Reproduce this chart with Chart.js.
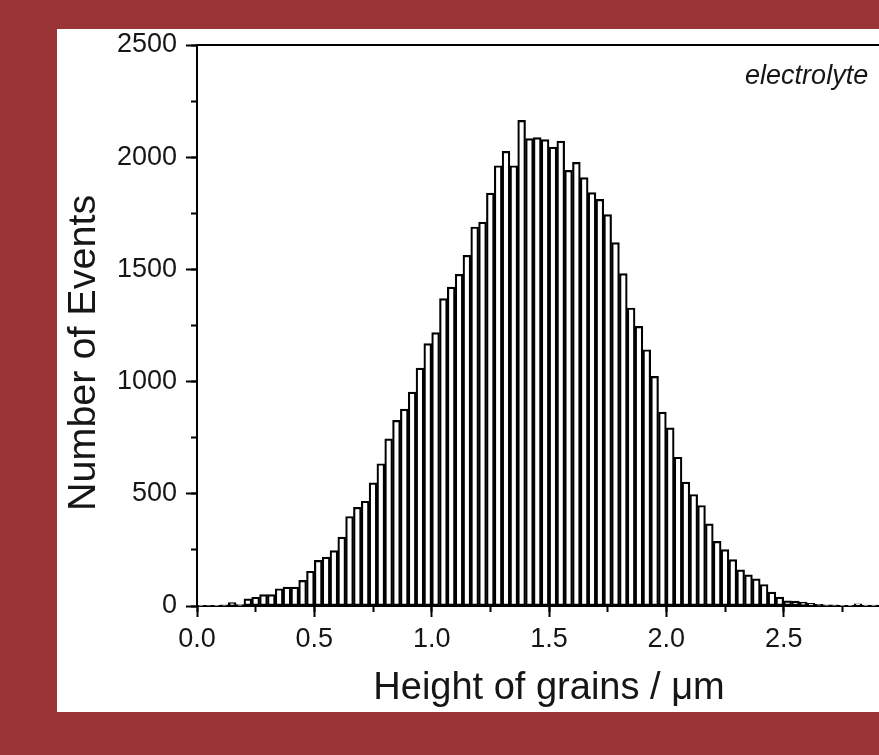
<!DOCTYPE html>
<html>
<head>
<meta charset="utf-8">
<title>Height of grains histogram</title>
<script src="https://cdn.jsdelivr.net/npm/chart.js@4.4.1/dist/chart.umd.min.js"></script>
<style>
    html, body { margin: 0; padding: 0; }
    body {
        width: 879px;
        height: 755px;
        background: #9b3535;
        overflow: hidden;
        position: relative;
        font-family: "Liberation Sans", Arial, sans-serif;
    }
    #panel {
        position: absolute;
        left: 57px;
        top: 29px;
        width: 870px;
        height: 683px;
        background: #ffffff;
    }
</style>
</head>
<body>
<div id="panel"><canvas id="grainChart" width="870" height="683"></canvas></div>
<script>
// bin centres (um), bins are 1/30 um wide
const binCenters = [
    0.0167, 0.05, 0.0833, 0.1167, 0.15, 0.1833, 0.2167, 0.25, 0.2833, 0.3167,
    0.35, 0.3833, 0.4167, 0.45, 0.4833, 0.5167, 0.55, 0.5833, 0.6167, 0.65,
    0.6833, 0.7167, 0.75, 0.7833, 0.8167, 0.85, 0.8833, 0.9167, 0.95, 0.9833,
    1.0167, 1.05, 1.0833, 1.1167, 1.15, 1.1833, 1.2167, 1.25, 1.2833, 1.3167,
    1.35, 1.3833, 1.4167, 1.45, 1.4833, 1.5167, 1.55, 1.5833, 1.6167, 1.65,
    1.6833, 1.7167, 1.75, 1.7833, 1.8167, 1.85, 1.8833, 1.9167, 1.95, 1.9833,
    2.0167, 2.05, 2.0833, 2.1167, 2.15, 2.1833, 2.2167, 2.25, 2.2833, 2.3167,
    2.35, 2.3833, 2.4167, 2.45, 2.4833, 2.5167, 2.55, 2.5833, 2.6167, 2.65,
    2.6833, 2.7167, 2.75, 2.7833, 2.8167, 2.85, 2.8833, 2.9167, 2.95, 2.9833
];

const eventCounts = [
    1, 2, 3, 5, 15, 6, 32, 39, 51, 51,
    77, 84, 84, 114, 155, 203, 218, 247, 307, 399,
    440, 467, 549, 634, 745, 827, 877, 953, 1060, 1169,
    1218, 1370, 1421, 1478, 1563, 1689, 1711, 1840, 1962, 2026,
    1962, 2164, 2083, 2087, 2078, 2045, 2072, 1941, 1977, 1909,
    1842, 1812, 1744, 1619, 1481, 1328, 1246, 1142, 1023, 864,
    794, 663, 552, 497, 448, 366, 288, 251, 207, 161,
    139, 121, 96, 62, 40, 23, 22, 17, 12, 7,
    5, 5, 3, 3, 10, 4, 4, 2, 1, 1
];

const xMajorStep = 0.5;
const xMinorStep = 0.25;
const yMajorStep = 500;
const yMinorStep = 250;
const xRange = [0, 3];
const yRange = [0, 2500];

const sampleLabel = "electrolyte";

const ink = "#161616";
const tickFont = { family: "'Liberation Sans', Arial, sans-serif", size: 27 };
const titleFont = { family: "'Liberation Sans', Arial, sans-serif", size: 38 };

// small italic tag in the upper right corner, placed in data space
const sampleTag = {
    id: "sampleTag",
    afterDatasetsDraw(chart) {
        const { ctx, scales } = chart;
        ctx.save();
        ctx.font = "italic 27px 'Liberation Sans', Arial, sans-serif";
        ctx.fillStyle = ink;
        ctx.textAlign = "right";
        ctx.textBaseline = "middle";
        ctx.fillText(sampleLabel, scales.x.getPixelForValue(2.86), scales.y.getPixelForValue(2360));
        ctx.restore();
    }
};

function frameAxis(axis, position, range) {
    return {
        axis: axis,
        type: "linear",
        display: true,
        position: position,
        offset: false,
        min: range[0],
        max: range[1],
        ticks: { display: false },
        grid: { display: false },
        border: { display: true, width: 2, color: "#000" },
        afterFit: (scale) => {
            if (axis === "x") scale.height = 0; else scale.width = 0;
        }
    };
}

function minorAxis(axis, position, range, step) {
    return {
        axis: axis,
        type: "linear",
        display: true,
        position: position,
        offset: false,
        min: range[0],
        max: range[1],
        ticks: { stepSize: step, display: false },
        grid: { display: true, drawOnChartArea: false, offset: false, tickLength: 6, tickWidth: 2, tickColor: "#000" },
        border: { display: false }
    };
}

function getHistogramConfig() {
    return {
        type: "bar",
        data: {
            datasets: [
                {
                    label: "Number of Events",
                    data: binCenters.map((x, i) => ({ x: x, y: eventCounts[i] })),
                    backgroundColor: "#ffffff",
                    borderColor: "#000000",
                    borderWidth: 2.2,
                    borderSkipped: false,
                    barPercentage: 1,
                    categoryPercentage: 1,
                    xAxisID: "x",
                    yAxisID: "y"
                }
            ]
        },
        options: {
            responsive: false,
            devicePixelRatio: 1,
            animation: false,
            layout: { padding: { top: 16, right: 26, left: 0, bottom: 0 } },
            plugins: {
                legend: { display: false },
                tooltip: { enabled: false }
            },
            scales: {
                x: {
                    type: "linear",
                    position: "bottom",
                    offset: false,
                    min: xRange[0],
                    max: xRange[1],
                    ticks: {
                        stepSize: xMajorStep,
                        color: ink,
                        font: tickFont,
                        padding: 6,
                        maxRotation: 0,
                        callback: (v) => v.toFixed(1)
                    },
                    grid: { display: true, drawOnChartArea: false, offset: false, tickLength: 11, tickWidth: 2, tickColor: "#000" },
                    border: { display: true, width: 2, color: "#000" },
                    title: {
                        display: true,
                        text: "Height of grains / μm",
                        color: ink,
                        font: titleFont,
                        padding: { top: 0, bottom: 1 }
                    },
                    afterFit: (scale) => { scale.height = 106; }
                },
                xMinor: minorAxis("x", { y: 0 }, xRange, xMinorStep),
                xTop: frameAxis("x", "top", xRange),
                y: {
                    type: "linear",
                    position: "left",
                    min: yRange[0],
                    max: yRange[1],
                    ticks: {
                        stepSize: yMajorStep,
                        color: ink,
                        font: tickFont,
                        padding: 9,
                        callback: (v) => String(v)
                    },
                    grid: { display: true, drawOnChartArea: false, tickLength: 11, tickWidth: 2, tickColor: "#000" },
                    border: { display: true, width: 2, color: "#000" },
                    title: {
                        display: true,
                        // trailing spaces push the label a little below the axis centre, as in the original
                        text: "Number of Events     ",
                        color: ink,
                        font: { family: titleFont.family, size: 39.5 },
                        padding: { top: 3, bottom: 0 }
                    },
                    afterFit: (scale) => {
                        scale.width = 140;
                        // the frame sits 16px below the panel edge; let the top label overhang
                        scale.paddingTop = 0;
                        scale.paddingBottom = 0;
                    }
                },
                yMinor: minorAxis("y", { x: 0 }, yRange, yMinorStep),
                yRight: frameAxis("y", "right", yRange)
            }
        },
        plugins: [sampleTag]
    };
}

new Chart(document.getElementById("grainChart"), getHistogramConfig());
</script>
</body>
</html>
